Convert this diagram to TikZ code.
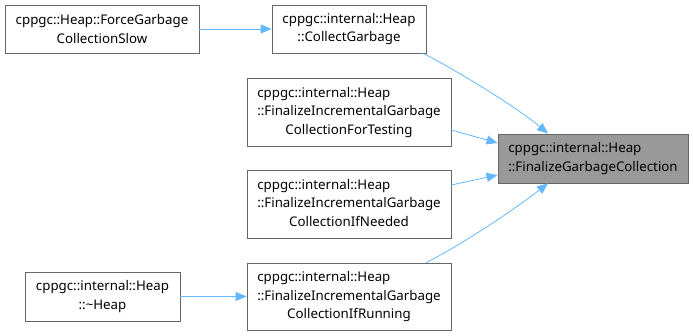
\documentclass[tikz,border=0pt]{standalone}
\usepackage{fontspec}
\setmainfont{Noto Sans}
\usetikzlibrary{arrows.meta}
\begin{document}
\begin{tikzpicture}[x=1pt,y=-1pt,
  fnbox/.style={draw=black!60, fill=white, line width=0.8pt, inner sep=0pt,
    font=\fontsize{13.3}{18.5}\selectfont},
  curbox/.style={fnbox, fill=black!40},
  call/.style={draw=edgeblue, line width=0.8pt,
    -{Triangle[length=11pt,width=9pt]}, color=edgeblue}]
\definecolor{edgeblue}{HTML}{63B8FF}
\useasboundingbox (0,0) rectangle (693,336);
% callers and callee
\node[fnbox, minimum width=194, minimum height=48, align=center] (slow) at (102,29)
  {cppgc::Heap::ForceGarbage\\CollectionSlow};
\node[fnbox, minimum width=154, minimum height=48, align=center] (collect) at (349,29)
  {cppgc::internal::Heap\\::CollectGarbage};
\node[fnbox, minimum width=204, minimum height=68] (testing) at (349,112)
  {\begin{tabular}{@{}l@{}}cppgc::internal::Heap\\::FinalizeIncrementalGarbage\\\multicolumn{1}{@{}c@{}}{CollectionForTesting}\end{tabular}};
\node[fnbox, minimum width=204, minimum height=68] (needed) at (349,204)
  {\begin{tabular}{@{}l@{}}cppgc::internal::Heap\\::FinalizeIncrementalGarbage\\\multicolumn{1}{@{}c@{}}{CollectionIfNeeded}\end{tabular}};
\node[fnbox, minimum width=204, minimum height=67] (running) at (349,296.5)
  {\begin{tabular}{@{}l@{}}cppgc::internal::Heap\\::FinalizeIncrementalGarbage\\\multicolumn{1}{@{}c@{}}{CollectionIfRunning}\end{tabular}};
\node[fnbox, minimum width=155, minimum height=49, align=center] (dtor) at (102.5,296.5)
  {cppgc::internal::Heap\\::\textasciitilde Heap};
\node[curbox, minimum width=190, minimum height=49, align=left] (final) at (593,158.5)
  {cppgc::internal::Heap\\::FinalizeGarbageCollection};
% call edges
\draw[call] ([xshift=-3pt]collect.south east) .. controls (470,78) and (520,110) .. ([xshift=-45pt]final.north);
\draw[call] (slow.east) -- (collect.west);
\draw[call] (testing.east |- 0,130) -- (final.west |- 0,143);
\draw[call] (needed.east |- 0,185) -- (final.west |- 0,175);
\draw[call] ([xshift=-25pt]running.north east) .. controls (470,240) and (520,205) .. ([xshift=-45pt]final.south);
\draw[call] (dtor.east) -- (running.west);
\end{tikzpicture}
\end{document}
